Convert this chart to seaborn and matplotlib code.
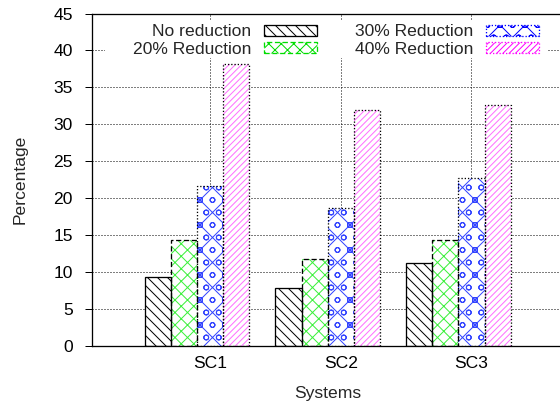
import pandas as pd
import numpy as np
import matplotlib.pyplot as plt
import matplotlib.patches as mpatches
import seaborn as sns

systems = ["SC1", "SC2", "SC3"]
series = ["No reduction", "20% Reduction", "30% Reduction", "40% Reduction"]
no_reduction = [9.4, 7.8, 11.3]
reduction_20 = [14.4, 11.8, 14.4]
reduction_30 = [21.7, 18.7, 22.8]
reduction_40 = [38.2, 31.9, 32.6]
y_ticks = [0, 5, 10, 15, 20, 25, 30, 35, 40, 45]

# long format table for seaborn
df = pd.DataFrame({
    "system": systems * 4,
    "series": np.repeat(series, 3),
    "value": no_reduction + reduction_20 + reduction_30 + reduction_40,
})

DPI = 150
px = 72 / DPI  # one pixel in points

sns.set_style("ticks")
plt.rcParams['font.family'] = ['Liberation Sans', 'DejaVu Sans']
plt.rcParams['font.size'] = 8.4
plt.rcParams['hatch.linewidth'] = 1.0 * px

hatch_colors = ["black", "#3cf03c", "#3344ff", "#ff70ff"]
hatches = ["\\" * 5, "xxxx", "xxoo", "/" * 8]
edge_styles = ["-", (0, (4, 2)), (0, (1, 1.5)), (0, (1, 1.5))]
legend_edges = ["black", "#00dd00", "#0000ff", "#ff00ff"]

fig = plt.figure(figsize=(560 / DPI, 407 / DPI), dpi=DPI)
ax = fig.add_axes([92 / 560, 61 / 407, 472 / 560, 332.5 / 407])

sns.barplot(data=df, x="system", y="value", hue="series", palette=["white"] * 4,
            errorbar=None, legend=False, linewidth=0, ax=ax)

for container, h, c, ls in zip(ax.containers, hatches, hatch_colors, edge_styles):
    for bar in container:
        bar.set_facecolor("white")
        bar.set_edgecolor(c)
        bar.set_hatch(h)
        bar.set_linewidth(0)
        outline = mpatches.Rectangle(bar.get_xy(), bar.get_width(), bar.get_height(),
                                     fill=False, edgecolor="black", linewidth=1.3 * px,
                                     linestyle=ls, zorder=3)
        ax.add_patch(outline)

ax.set_xlim(-0.803, 2.808)
ax.set_ylim(0, 45)
ax.set_yticks(y_ticks)
ax.set_xticks([0.1, 1.1, 2.1])
ax.set_xticklabels(systems)
ax.set_axisbelow(True)
ax.grid(True, color="black", linestyle=(0, (1, 2)), linewidth=1 * px)

for s in ax.spines.values():
    s.set_linewidth(1.3 * px)
    s.set_color("black")
ax.tick_params(axis="y", length=7 * px, width=1 * px, pad=5.8, colors="black")
ax.tick_params(axis="x", length=0, pad=5, colors="black")

ax.set_xlabel("Systems", labelpad=7)
ax.set_ylabel("Percentage", labelpad=12.5)

# white box behind the key, like gnuplot's opaque key
key_bg = mpatches.Rectangle((105 / 560, 1 - 58 / 407), (548 - 105) / 560, 38 / 407,
                            transform=fig.transFigure, facecolor="white",
                            edgecolor="none", zorder=4)
ax.add_patch(key_bg)

handles = [mpatches.Patch(facecolor="white", edgecolor=e, hatch=h, linestyle=ls,
                          linewidth=1.3 * px, label=lab)
           for e, h, ls, lab in zip(legend_edges, hatches, edge_styles, series)]
ax.legend(handles=handles, ncol=2, markerfirst=False, frameon=False,
          loc="upper right", bbox_to_anchor=(539 / 560, 1 - 24.5 / 407),
          bbox_transform=fig.transFigure, borderpad=0, borderaxespad=0,
          handlelength=3.05, handleheight=0.57, handletextpad=0.7,
          columnspacing=2.17, labelspacing=0.13)

fig.savefig("out.png", dpi=DPI)
